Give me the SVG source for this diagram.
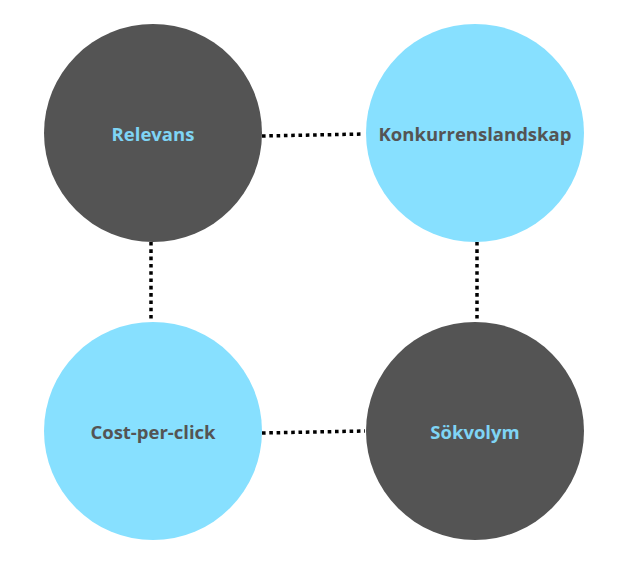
<svg xmlns="http://www.w3.org/2000/svg" width="627" height="565" viewBox="0 0 627 565">
<style>
.dark{fill:#545454}
.light{fill:#87e0ff}
.t{font-family:"Open Sans","Liberation Sans",sans-serif;font-weight:700;font-size:18.5px;text-anchor:middle}
.tl{fill:#7fd4f5}
.td{fill:#545454}
.c{stroke:#000;stroke-width:3.5;stroke-dasharray:3.6 3.7;fill:none}
</style>
<rect width="627" height="565" fill="#fff"/>
<g id="connectors">
<line class="c" x1="262" y1="136" x2="364" y2="134"/>
<line class="c" x1="151" y1="242" x2="151" y2="322"/>
<line class="c" x1="477" y1="242" x2="477" y2="322"/>
<line class="c" x1="262" y1="433" x2="365" y2="431"/>
</g>
<g id="relevans">
<circle class="dark" cx="153" cy="133" r="109"/>
<text class="t tl" x="153" y="140.5">Relevans</text>
</g>
<g id="konkurrenslandskap">
<circle class="light" cx="475" cy="133" r="109"/>
<text class="t td" x="475" y="140.5">Konkurrenslandskap</text>
</g>
<g id="costperclick">
<circle class="light" cx="153" cy="431" r="109"/>
<text class="t td" x="153" y="438.5">Cost-per-click</text>
</g>
<g id="sokvolym">
<circle class="dark" cx="475" cy="431" r="109"/>
<text class="t tl" x="475" y="438.5">Sökvolym</text>
</g>
</svg>
